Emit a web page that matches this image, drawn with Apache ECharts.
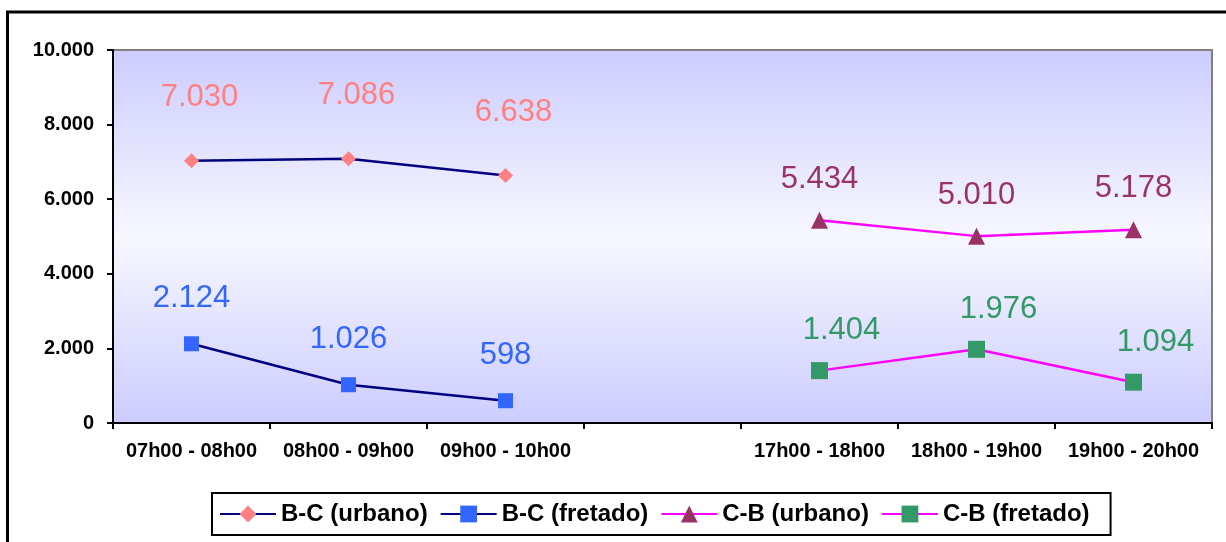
<!DOCTYPE html>
<html>
<head>
<meta charset="utf-8">
<script src="https://cdn.jsdelivr.net/npm/echarts@6/dist/echarts.min.js"></script>
<style>
html,body{margin:0;padding:0;background:#fff;}
#chart{width:1226px;height:542px;}
</style>
</head>
<body>
<div id="chart"></div>
<script>
const categories = ['07h00 - 08h00', '08h00 - 09h00', '09h00 - 10h00', '', '17h00 - 18h00', '18h00 - 19h00', '19h00 - 20h00'];
const seriesNames = ['B-C (urbano)', 'B-C (fretado)', 'C-B (urbano)', 'C-B (fretado)'];
const bcUrbano = [7030, 7086, 6638, null, null, null, null];
const bcFretado = [2124, 1026, 598, null, null, null, null];
const cbUrbano = [null, null, null, null, 5434, 5010, 5178];
const cbFretado = [null, null, null, null, 1404, 1976, 1094];
const yTicks = { min: 0, max: 10000, interval: 2000 };

const FONT = "'Liberation Sans', Arial, sans-serif";
const fmt = v => String(v).replace(/\B(?=(\d{3})+(?!\d))/g, '.');

function lineSeries(name, data, lineColor, markColor, symbol, size, dist, dx) {
  return {
    name: name,
    type: 'line',
    data: data,
    symbol: symbol,
    symbolSize: size,
    connectNulls: false,
    lineStyle: { color: lineColor, width: 2.5 },
    itemStyle: { color: markColor, borderWidth: 0 },
    label: {
      show: true,
      position: 'top',
      distance: dist,
      offset: [dx, 0],
      color: markColor,
      fontFamily: FONT,
      fontSize: 31,
      formatter: p => fmt(p.value)
    },
    emphasis: { disabled: true },
    z: 3
  };
}

const chart = echarts.init(document.getElementById('chart'), null, { renderer: 'canvas' });
chart.setOption({
  animation: false,
  backgroundColor: '#ffffff',
  graphic: [{
    type: 'rect',
    shape: { x: 7.5, y: 12, width: 1400, height: 800 },
    style: { fill: 'none', stroke: '#000', lineWidth: 3 },
    silent: true,
    z: 0
  }],
  grid: {
    left: 113, top: 50, width: 1099, height: 373,
    show: true,
    backgroundColor: new echarts.graphic.LinearGradient(0, 0, 0, 1, [
      { offset: 0, color: '#CCCCFF' },
      { offset: 0.5, color: '#F7F7FF' },
      { offset: 1, color: '#CCCCFF' }
    ]),
    borderColor: '#808080',
    borderWidth: 2
  },
  legend: {
    left: 212, top: 493,
    padding: [9, 21, 9, 7],
    itemGap: 12,
    itemWidth: 56,
    itemHeight: 21,
    borderColor: '#000',
    borderWidth: 2,
    backgroundColor: '#fff',
    textStyle: { fontFamily: FONT, fontSize: 24, fontWeight: 'bold', color: '#000' },
    data: seriesNames
  },
  xAxis: {
    type: 'category',
    data: categories,
    boundaryGap: true,
    axisLine: { lineStyle: { color: '#000', width: 2 } },
    axisTick: { show: true, length: 6, lineStyle: { color: '#000', width: 2 }, alignWithLabel: false },
    axisLabel: { interval: 0, margin: 18, color: '#000', fontFamily: FONT, fontSize: 20, fontWeight: 'bold' },
    splitLine: { show: false }
  },
  yAxis: {
    type: 'value',
    min: yTicks.min, max: yTicks.max, interval: yTicks.interval,
    axisLine: { show: true, lineStyle: { color: '#000', width: 2 } },
    axisTick: { show: true, length: 6, lineStyle: { color: '#000', width: 2 } },
    axisLabel: { margin: 19, color: '#000', fontFamily: FONT, fontSize: 20, fontWeight: 'bold', formatter: v => fmt(v) },
    splitLine: { show: false }
  },
  series: [
    lineSeries(seriesNames[0], bcUrbano, '#000080', '#FF8080', 'diamond', 15, 40, 8),
    lineSeries(seriesNames[1], bcFretado, '#000080', '#3366FF', 'rect', 15, 22, 0),
    lineSeries(seriesNames[2], cbUrbano, '#FF00FF', '#993366', 'triangle', 17, 17, 0),
    lineSeries(seriesNames[3], cbFretado, '#FF00FF', '#339966', 'rect', 17, 16, 22)
  ]
});
</script>
</body>
</html>
